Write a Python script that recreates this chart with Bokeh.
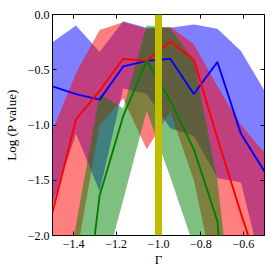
import numpy as np
from bokeh.plotting import figure
from bokeh.models import Span, LinearAxis, CustomJSTickFormatter, FixedTicker, Range1d
from bokeh.embed import file_html
from bokeh.resources import INLINE

# Gamma grid
gamma = [-1.5, -1.3889, -1.2778, -1.1667, -1.0556, -0.9444, -0.8333, -0.7222, -0.6111, -0.5]

# Blue series
blue_mid = [-0.65, -0.72, -0.77, -0.47, -0.42, -0.40, -0.72, -0.43, -1.08, -1.42]
blue_hi = [-0.25, -0.10, -0.34, -0.06, -0.12, -0.12, -0.09, -0.13, -0.33, -0.69]
blue_lo = [-1.72, -1.08, -1.60, -0.67, -0.72, -1.03, -1.10, -1.48, -1.52, -2.38]

# Red series
red_mid = [-1.79, -0.95, -0.69, -0.40, -0.42, -0.245, -0.41, -1.12, -1.80, -2.45]
red_hi = [-1.05, -0.53, -0.14, -0.07, -0.13, -0.11, -0.27, -0.65, -1.00, -1.25]
red_lo = [-2.60, -2.20, -1.00, -0.76, -1.22, -0.88, -1.50, -2.50, -2.60, -2.70]

# Green series
green_mid = [-5.5, -3.4, -1.64, -0.92, -0.42, -0.78, -1.22, -1.87, -4.5, -6.0]
green_hi = [-3.0, -1.90, -0.72, -0.85, -0.10, -0.12, -0.42, -1.50, -3.40, -5.0]
green_lo = [-6.0, -4.0, -2.47, -1.68, -0.87, -1.47, -2.10, -2.80, -4.0, -6.0]

gamma_ref = -1.0
x_ticks = [-1.4, -1.2, -1.0, -0.8, -0.6]
y_ticks = [-2.0, -1.5, -1.0, -0.5, 0.0]

p = figure(width=272, height=272, output_backend="svg", toolbar_location=None,
           x_range=Range1d(-1.5, -0.5), y_range=Range1d(-2.0, 0.0),
           min_border_left=49, min_border_right=8, min_border_top=14, min_border_bottom=37)
p.background_fill_color = "white"
p.border_fill_color = "white"
p.outline_line_color = "black"
p.outline_line_width = 1
p.xgrid.visible = False
p.ygrid.visible = False

BLUE = "#0000ff"
RED = "#ff0000"
GREEN = "#008000"

p.varea(x=gamma, y1=blue_lo, y2=blue_hi, fill_color=BLUE, fill_alpha=0.5)
p.varea(x=gamma, y1=red_lo, y2=red_hi, fill_color=RED, fill_alpha=0.5)
p.varea(x=gamma, y1=green_lo, y2=green_hi, fill_color=GREEN, fill_alpha=0.5)

p.line(gamma, blue_mid, line_color=BLUE, line_width=1.9)
p.line(gamma, red_mid, line_color=RED, line_width=1.9)
p.line(gamma, green_mid, line_color=GREEN, line_width=1.9)

p.add_layout(Span(location=gamma_ref, dimension="height", line_color="#bfbf00", line_width=7))

fmt = CustomJSTickFormatter(code="return (tick < -1e-9 ? '\u2212' : '') + Math.abs(tick).toFixed(1);")
blank = CustomJSTickFormatter(code="return '';")
FONT = "Liberation Serif"

def style(ax):
    ax.major_tick_in = 4
    ax.major_tick_out = 0
    ax.minor_tick_line_color = None
    ax.axis_line_color = None
    ax.major_tick_line_color = "black"
    ax.major_label_text_font = FONT
    ax.major_label_text_font_size = "12px"
    ax.major_label_text_color = "black"
    ax.axis_label_text_font = FONT
    ax.axis_label_text_font_style = "normal"
    ax.axis_label_text_font_size = "13px"
    ax.axis_label_text_color = "black"

xa = p.xaxis[0]
xa.ticker = FixedTicker(ticks=x_ticks)
xa.formatter = fmt
xa.axis_label = "Γ"
xa.major_label_standoff = 4
xa.axis_label_standoff = 1
style(xa)

ya = p.yaxis[0]
ya.ticker = FixedTicker(ticks=y_ticks)
ya.formatter = fmt
ya.axis_label = "Log (P value)"
ya.major_label_standoff = 3
ya.axis_label_standoff = 6
style(ya)

top = LinearAxis(ticker=FixedTicker(ticks=x_ticks), formatter=blank)
style(top)
p.add_layout(top, "above")
right = LinearAxis(ticker=FixedTicker(ticks=y_ticks), formatter=blank)
style(right)
p.add_layout(right, "right")

open("out.html", "w").write(file_html(p, INLINE))
